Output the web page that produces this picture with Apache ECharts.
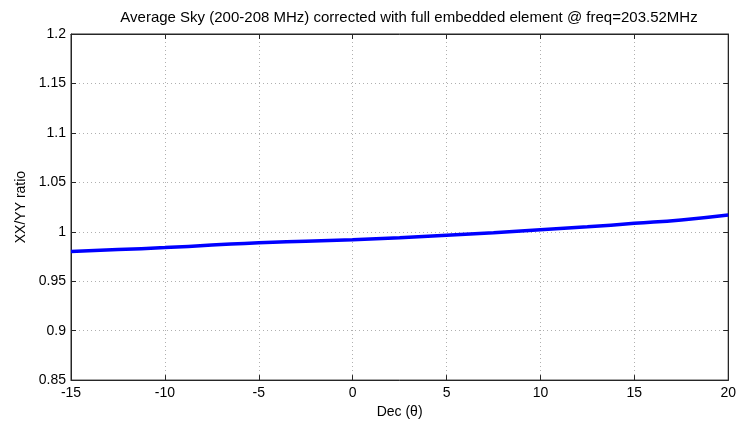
<!DOCTYPE html>
<html><head><meta charset="utf-8">
<script src="https://cdn.jsdelivr.net/npm/echarts@6/dist/echarts.min.js"></script>
<style>html,body{margin:0;padding:0;background:#fff}#c{width:739px;height:424px}</style>
</head><body><div id="c"></div>
<script>
const decValues = [-15, -12.5, -10, -7.5, -5, -2.5, 0, 2.5, 5, 7.5, 10, 12.5, 15, 17.5, 20];
const ratioValues = [0.980, 0.982, 0.984, 0.9865, 0.989, 0.9905, 0.992, 0.994, 0.9965, 0.999, 1.002, 1.005, 1.0085, 1.012, 1.017];
const titleText = 'Average Sky (200-208 MHz) corrected with full embedded element @ freq=203.52MHz';
const xName = 'Dec (\u03b8)';
const yName = 'XX/YY ratio';

const chart = echarts.init(document.getElementById('c'), null, {renderer: 'canvas'});
const font = 'Liberation Sans, Arial, sans-serif';
const axisCol = '#262626';
const gridLine = {show: true, lineStyle: {color: '#b0b0b0', type: [1, 3], width: 1}};
chart.setOption({
  animation: false,
  backgroundColor: '#fff',
  title: {text: titleText, left: 404, top: 5, textAlign: 'center',
    textStyle: {fontFamily: font, fontSize: 15, fontWeight: 'normal', color: '#000'}},
  grid: {left: 71, right: 8, top: 34, bottom: 42, show: true, borderColor: axisCol, borderWidth: 1, backgroundColor: '#fff'},
  xAxis: [{
    type: 'value', min: -15, max: 20, interval: 5,
    name: xName, nameLocation: 'middle', nameGap: 24,
    nameTextStyle: {fontFamily: font, fontSize: 14, color: '#000'},
    axisLine: {show: true, onZero: false, lineStyle: {color: axisCol}},
    axisTick: {show: true, inside: true, length: 5, lineStyle: {color: axisCol}},
    axisLabel: {fontFamily: font, fontSize: 14, color: '#000', margin: 6},
    splitLine: gridLine
  }, {
    type: 'value', min: -15, max: 20, interval: 5, position: 'top',
    axisLine: {show: true, onZero: false, lineStyle: {color: axisCol}},
    axisTick: {show: true, inside: true, length: 5, lineStyle: {color: axisCol}},
    axisLabel: {show: false}, splitLine: {show: false}
  }],
  yAxis: [{
    type: 'value', min: 0.85, max: 1.2, interval: 0.05,
    name: yName, nameLocation: 'middle', nameGap: 42, nameRotate: 90,
    nameTextStyle: {fontFamily: font, fontSize: 14, color: '#000'},
    axisLine: {show: true, onZero: false, lineStyle: {color: axisCol}},
    axisTick: {show: true, inside: true, length: 5, lineStyle: {color: axisCol}},
    axisLabel: {fontFamily: font, fontSize: 14, color: '#000', margin: 5,
      formatter: v => String(parseFloat(v.toFixed(2)))},
    splitLine: gridLine
  }, {
    type: 'value', min: 0.85, max: 1.2, interval: 0.05, position: 'right',
    axisLine: {show: true, onZero: false, lineStyle: {color: axisCol}},
    axisTick: {show: true, inside: true, length: 5, lineStyle: {color: axisCol}},
    axisLabel: {show: false}, splitLine: {show: false}
  }],
  series: [{
    type: 'line', xAxisIndex: 0, yAxisIndex: 0, smooth: true, showSymbol: false,
    data: decValues.map((d, i) => [d, ratioValues[i]]),
    lineStyle: {color: '#0000ff', width: 3.5}, itemStyle: {color: '#0000ff'}
  }]
});
</script></body></html>
